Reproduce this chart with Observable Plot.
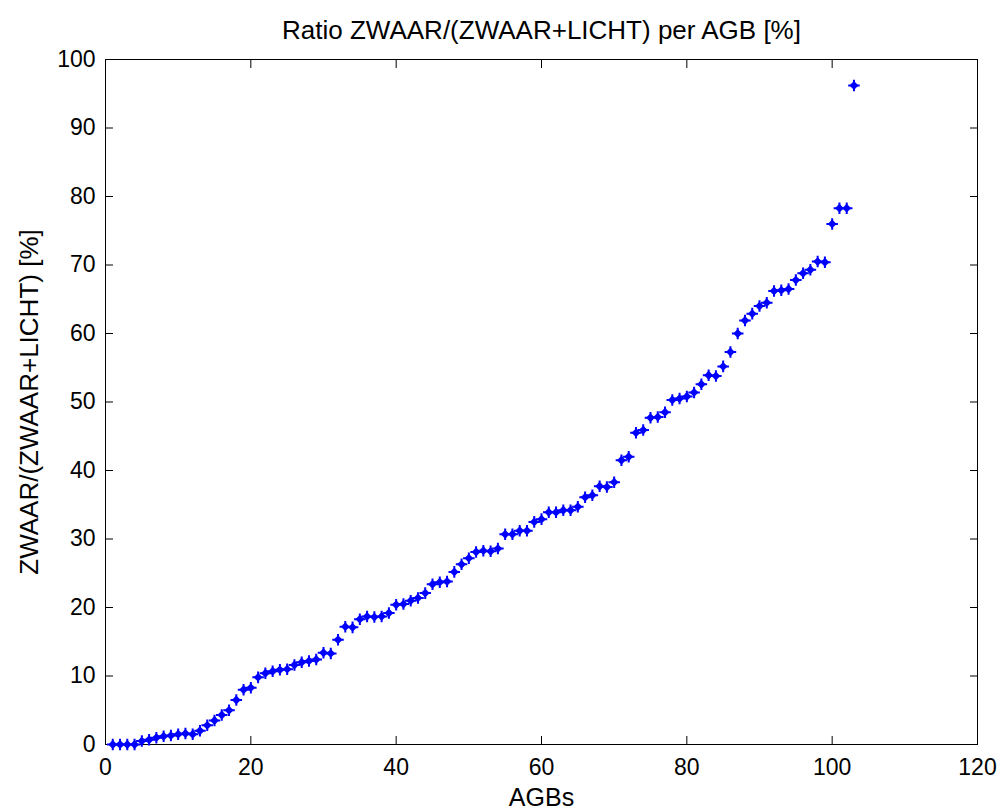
<!DOCTYPE html>
<html>
<head>
<meta charset="utf-8">
<script src="https://cdn.jsdelivr.net/npm/d3@7"></script>
<script src="https://cdn.jsdelivr.net/npm/@observablehq/plot@0.6"></script>
<style>
  html, body { margin: 0; padding: 0; background: #fff; }
  #chart svg { display: block; }
</style>
</head>
<body>
<div id="chart"></div>
<script>
const titleText = "Ratio ZWAAR/(ZWAAR+LICHT) per AGB [%]";
const xLabel = "AGBs";
const yLabel = "ZWAAR/(ZWAAR+LICHT) [%]";
const xTicks = [0, 20, 40, 60, 80, 100, 120];
const yTicks = [0, 10, 20, 30, 40, 50, 60, 70, 80, 90, 100];

// ratio per AGB (AGB index 1..103)
const ratios = [
  0.0, 0.0, 0.0, 0.0, 0.5, 0.7, 1.0, 1.2, 1.3, 1.5,
  1.6, 1.5, 2.0, 2.8, 3.5, 4.3, 5.0, 6.5, 8.0, 8.3,
  9.8, 10.4, 10.7, 10.9, 11.0, 11.6, 12.0, 12.2, 12.4, 13.4,
  13.3, 15.3, 17.2, 17.1, 18.3, 18.7, 18.6, 18.7, 19.2, 20.4,
  20.5, 21.0, 21.4, 22.1, 23.4, 23.7, 23.8, 25.2, 26.3, 27.2,
  28.1, 28.3, 28.2, 28.6, 30.7, 30.7, 31.2, 31.2, 32.5, 32.9,
  33.9, 33.9, 34.2, 34.2, 34.7, 36.1, 36.4, 37.7, 37.6, 38.3,
  41.5, 42.0, 45.5, 45.9, 47.7, 47.8, 48.5, 50.3, 50.5, 50.8,
  51.4, 52.6, 53.9, 53.8, 55.2, 57.3, 60.0, 61.9, 62.9, 64.0,
  64.5, 66.2, 66.3, 66.5, 67.8, 68.8, 69.3, 70.5, 70.4, 76.0,
  78.3, 78.3, 96.2
];
const agbs = ratios.map((_, i) => i + 1);
const data = agbs.map((a, i) => ({agb: a, ratio: ratios[i]}));

const font = "'Liberation Sans', Arial, Helvetica, sans-serif";

const chart = Plot.plot({
  width: 1000,
  height: 812,
  marginLeft: 105,
  marginRight: 23,
  marginTop: 59,
  marginBottom: 68,
  style: {fontFamily: font, fontSize: "23px", color: "#000", background: "#fff", overflow: "visible"},
  x: {domain: [0, 120]},
  y: {domain: [0, 100]},
  marks: [
    Plot.frame({stroke: "#000", strokeWidth: 1}),
    // inward ticks on all sides
    Plot.axisX(xTicks, {anchor: "bottom", tickSize: -8, text: null, label: null}),
    Plot.axisX(xTicks, {anchor: "top", tickSize: -8, text: null, label: null}),
    Plot.axisY(yTicks, {anchor: "left", tickSize: -8, text: null, label: null}),
    Plot.axisY(yTicks, {anchor: "right", tickSize: -8, text: null, label: null}),
    // tick labels
    Plot.axisX(xTicks, {anchor: "bottom", tickSize: 0, tickPadding: 14, label: null, fontSize: 23}),
    Plot.axisY(yTicks, {anchor: "left", tickSize: 0, tickPadding: 10, label: null, fontSize: 23}),
    // data
    Plot.dot(data, {x: "agb", y: "ratio", symbol: "diamond2", r: 4, fill: "#0000ff", stroke: "none"}),
    Plot.dot(data, {x: "agb", y: "ratio", symbol: "plus", r: 3.8, stroke: "#0000ff", strokeWidth: 2, fill: "none"}),
    // titles
    Plot.text([titleText], {frameAnchor: "top", dy: -29, lineAnchor: "middle", textAnchor: "middle", fontSize: 26, fill: "#000"}),
    Plot.text([xLabel], {frameAnchor: "bottom", dy: 53, lineAnchor: "middle", textAnchor: "middle", fontSize: 25, fill: "#000"}),
    Plot.text([yLabel], {frameAnchor: "left", dx: -76, rotate: -90, lineAnchor: "middle", textAnchor: "middle", fontSize: 26, fill: "#000"})
  ]
});
document.getElementById("chart").appendChild(chart);
</script>
</body>
</html>
